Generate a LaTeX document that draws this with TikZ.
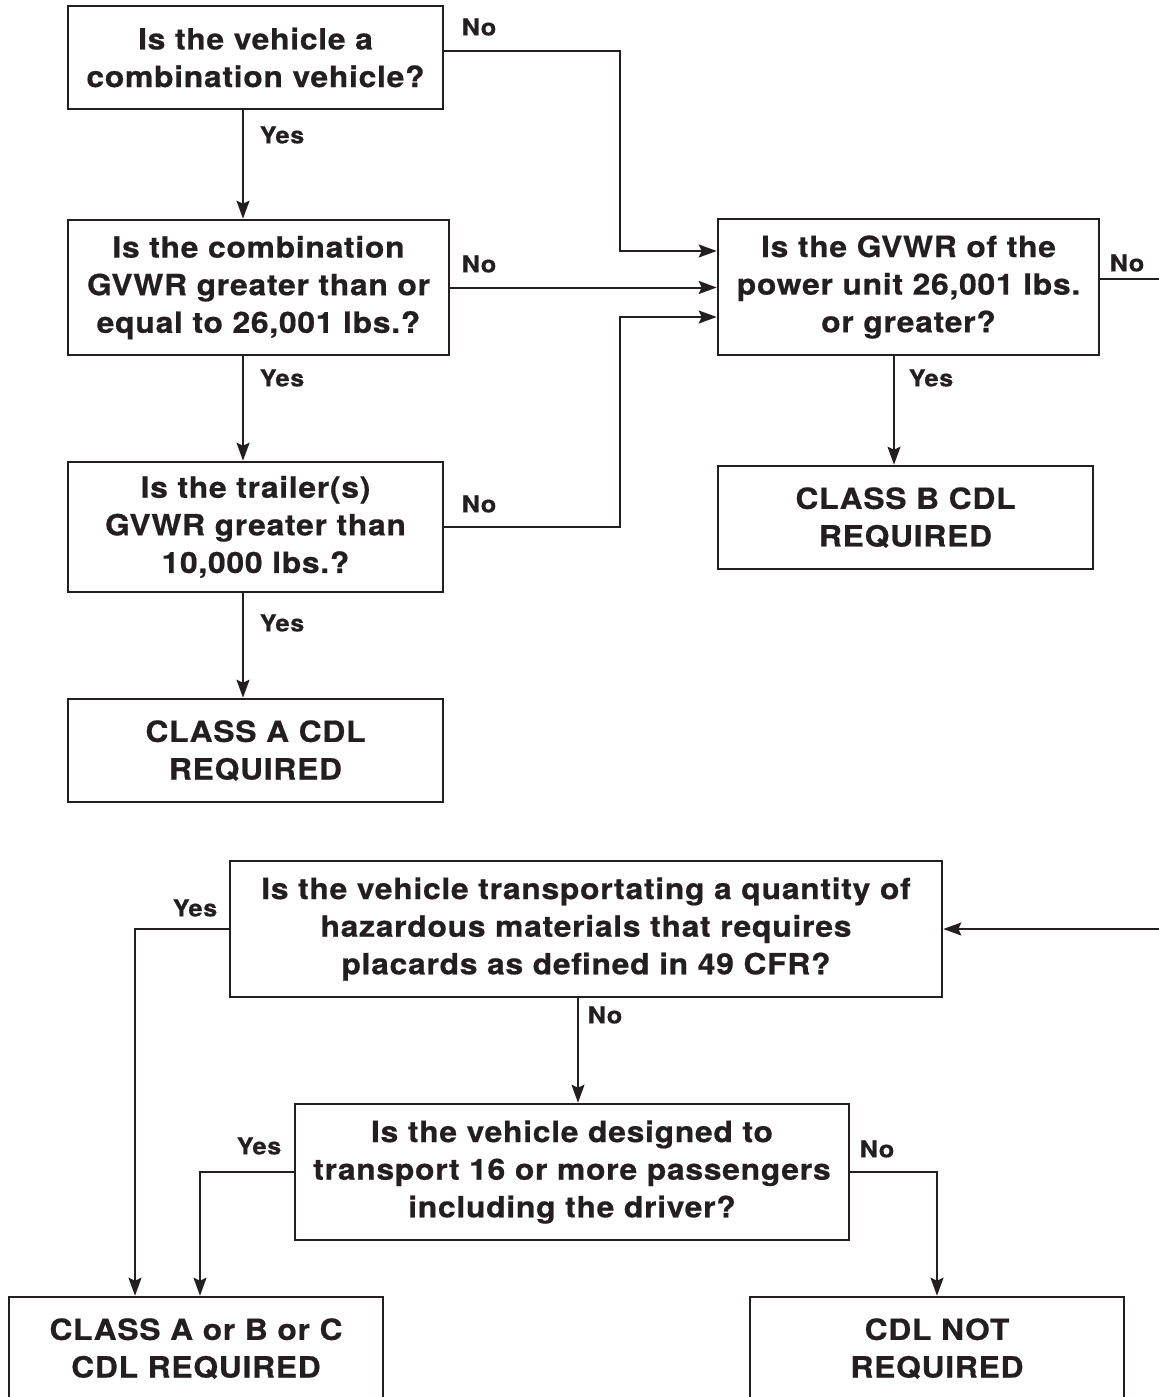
\documentclass[tikz,border=0pt]{standalone}
\usepackage{fontspec}
\setmainfont{TeX Gyre Heros}
\newfontfamily\chartfont[FakeStretch=1.09,LetterSpace=2.5,FakeBold=0.6]{TeX Gyre Heros}
\usetikzlibrary{arrows.meta}
\definecolor{ink}{HTML}{231F20}
\begin{document}
\begin{tikzpicture}[x=0.5pt,y=-0.5pt]
    % Styles pour les boites, les etiquettes et les fleches
    \tikzstyle{box} = [draw=ink, line width=1.3pt, align=center, inner sep=0pt, text=ink, font=\chartfont\bfseries\fontsize{14.6}{18.8}\selectfont]
    \tikzstyle{lab} = [text=ink, inner sep=0pt, font=\chartfont\bfseries\fontsize{11.6}{13}\selectfont]
    \tikzstyle{wire} = [ink, line width=1pt]
    \tikzstyle{arrow} = [wire, -{Stealth[length=9pt,width=6.5pt,inset=1.5pt]}]

    % Cadre de l'image
    \useasboundingbox (0,0) rectangle (1159,1397);
    \clip (0,0) rectangle (1159,1397);

    % Questions et resultats en haut
    \node[box, minimum width=187.5pt, minimum height=51.5pt] (q1) at (255.5,57.5) {Is the vehicle a\\combination vehicle?};
    \node[box, minimum width=190.5pt, minimum height=67.5pt] (q2) at (258.5,287.5) {Is the combination\\GVWR greater than or\\equal to 26,001 lbs.?};
    \node[box, minimum width=187.5pt, minimum height=65pt] (q3) at (255.5,527) {Is the trailer(s)\\GVWR greater than\\10,000 lbs.?};
    \node[box, minimum width=187.5pt, minimum height=51.5pt] (clA) at (255.5,750.5) {CLASS A CDL\\REQUIRED};
    \node[box, minimum width=190.5pt, minimum height=68pt] (q4) at (908.5,287) {Is the GVWR of the\\power unit 26,001 lbs.\\or greater?};
    \node[box, minimum width=187.5pt, minimum height=51.5pt] (clB) at (905.5,517.5) {CLASS B CDL\\REQUIRED};

    % Questions et resultats en bas
    \node[box, minimum width=356pt, minimum height=68pt] (q5) at (586,929) {Is the vehicle transportating a quantity of\\hazardous materials that requires\\placards as defined in 49 CFR?};
    \node[box, minimum width=277pt, minimum height=68pt] (q6) at (572,1172) {Is the vehicle designed to\\transport 16 or more passengers\\including the driver?};
    \node[box, minimum width=187pt, minimum height=51.5pt] (clABC) at (196,1348.5) {CLASS A or B or C\\CDL REQUIRED};
    \node[box, minimum width=187pt, minimum height=51.5pt] (notreq) at (937,1348.5) {CDL NOT\\REQUIRED};

    % Colonnes des connecteurs
    \coordinate (colL) at (243,0);
    \coordinate (colJ) at (620,0);
    \coordinate (colB) at (894,0);
    \coordinate (colM) at (578,0);
    \coordinate (colY1) at (135,0);
    \coordinate (colY2) at (200,0);
    \coordinate (edge) at (1170,0);
    \coordinate (in1) at ([yshift=18pt]q4.west);
    \coordinate (in3) at ([yshift=-15pt]q4.west);
    \coordinate (q1out) at ([yshift=3.5pt]q1.east);
    \coordinate (q4out) at ([yshift=4pt]q4.east);

    % Fleches "Yes" de la colonne de gauche
    \draw[arrow] (colL |- q1.south) -- (colL |- q2.north);
    \draw[arrow] (colL |- q2.south) -- (colL |- q3.north);
    \draw[arrow] (colL |- q3.south) -- (colL |- clA.north);
    \draw[arrow] (colB |- q4.south) -- (colB |- clB.north);

    % Fleches "No" vers q4
    \draw[arrow] (q1out) -| (colJ |- in1) -- (in1);
    \draw[arrow] (q2.east) -- (q2.east -| q4.west);
    \draw[arrow] (q3.east) -| (colJ |- in3) -- (in3);

    % Liaison par le bord droit
    \draw[wire] (q4out) -- (q4out -| edge);
    \draw[arrow] (edge |- q5.east) -- (q5.east);

    % Fleches du bas
    \draw[arrow] (q5.west) -| (colY1 |- clABC.north);
    \draw[arrow] (colM |- q5.south) -- (colM |- q6.north);
    \draw[arrow] (q6.west) -| (colY2 |- clABC.north);
    \draw[arrow] (q6.east) -| (notreq.north);

    % Etiquettes Yes / No
    \node[lab] (no1) at (479,27) {No};
    \node[lab] (yes1) at (282,135) {Yes};
    \node[lab] (no2) at (479,264) {No};
    \node[lab] (yes2) at (282,378) {Yes};
    \node[lab] (no3) at (479,504) {No};
    \node[lab] (yes3) at (282,623) {Yes};
    \node[lab] (yes4) at (931,378) {Yes};
    \node[lab] (no4) at (1127,263) {No};
    \node[lab] (yes5) at (195,908) {Yes};
    \node[lab] (no5) at (605,1015) {No};
    \node[lab] (yes6) at (259,1146) {Yes};
    \node[lab] (no6) at (877,1149) {No};
\end{tikzpicture}
\end{document}
